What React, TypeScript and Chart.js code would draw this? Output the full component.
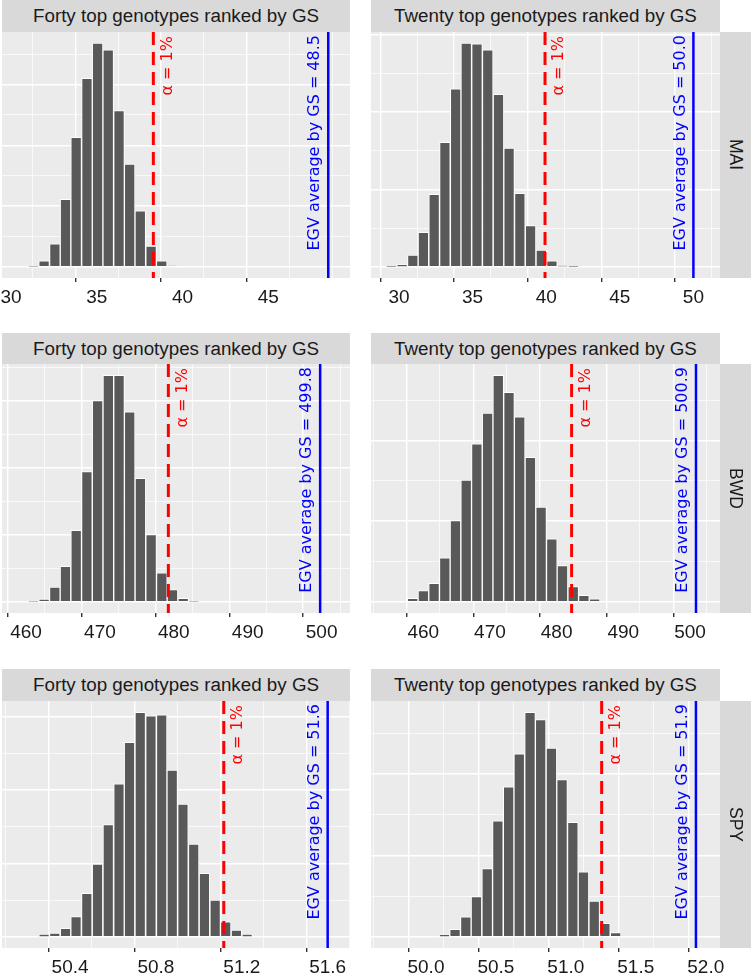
import React, { useEffect, useRef } from "react";
import { Chart, registerables } from "chart.js";

Chart.register(...registerables);

// ---------------- data ----------------
const rowNames = ["MAI", "BWD", "SPY"];
const colTitles = ["Forty top genotypes ranked by GS", "Twenty top genotypes ranked by GS"];

const maiFortyBins = [31.31, 31.93, 32.56, 33.18, 33.8, 34.43, 35.05, 35.67, 36.3, 36.92, 37.54, 38.17, 38.79, 39.41];
const maiFortyCounts = [3, 50, 190, 555, 1065, 1550, 1840, 1785, 1285, 845, 460, 170, 50, 8];

const maiTwentyBins = [29.48, 30.21, 30.94, 31.66, 32.39, 33.12, 33.85, 34.57, 35.3, 36.03, 36.76, 37.48, 38.21, 38.94, 39.67, 40.39, 41.12, 41.85];
const maiTwentyCounts = [2, 15, 75, 222, 468, 804, 1149, 1444, 1440, 1401, 1114, 767, 474, 267, 108, 39, 6, 2];

const bwdFortyBins = [461.0, 462.45, 463.9, 465.34, 466.79, 468.24, 469.69, 471.14, 472.59, 474.03, 475.48, 476.93, 478.38, 479.82, 481.27, 482.72];
const bwdFortyCounts = [2, 20, 108, 263, 533, 970, 1500, 1688, 1688, 1415, 920, 500, 215, 90, 25, 2];

const bwdTwentyBins = [458.41, 460.02, 461.62, 463.23, 464.83, 466.44, 468.04, 469.65, 471.25, 472.86, 474.46, 476.07, 477.67, 479.28, 480.88, 482.49, 484.09, 485.7];
const bwdTwentyCounts = [21, 69, 114, 272, 503, 755, 980, 1171, 1406, 1300, 1148, 896, 587, 391, 225, 94, 40, 17];

const spyFortyBins = [50.279, 50.329, 50.379, 50.428, 50.478, 50.528, 50.578, 50.628, 50.677, 50.727, 50.777, 50.827, 50.876, 50.926, 50.976, 51.026, 51.076, 51.125, 51.175, 51.225];
const spyFortyCounts = [18, 25, 57, 138, 295, 495, 763, 1040, 1323, 1528, 1503, 1510, 1135, 903, 631, 431, 250, 102, 45, 18];

const spyTwentyBins = [50.132, 50.208, 50.285, 50.361, 50.438, 50.514, 50.591, 50.667, 50.744, 50.82, 50.897, 50.973, 51.05, 51.126, 51.203, 51.279, 51.356];
const spyTwentyCounts = [12, 45, 123, 246, 418, 711, 920, 1123, 1378, 1333, 1158, 964, 703, 398, 219, 82, 25];

const panelBins = [maiFortyBins, maiTwentyBins, bwdFortyBins, bwdTwentyBins, spyFortyBins, spyTwentyBins];
const panelCounts = [maiFortyCounts, maiTwentyCounts, bwdFortyCounts, bwdTwentyCounts, spyFortyCounts, spyTwentyCounts];

const thresholdValues = [38.3, 39.92, 479.26, 482.25, 51.116, 51.256];
const alphaLabel = "α = 1%";
const egvValues = [48.5, 50.0, 499.8, 500.9, 51.6, 51.93];
const egvLabels = ["48.5", "50.0", "499.8", "500.9", "51.6", "51.9"];

const xMajorTicks = [
  [30, 35, 40, 45],
  [30, 35, 40, 45, 50],
  [460, 470, 480, 490, 500],
  [460, 470, 480, 490, 500],
  [50.4, 50.8, 51.2, 51.6],
  [50.0, 50.5, 51.0, 51.5, 52.0],
];
const xTickLabels = [
  ["30", "35", "40", "45"],
  ["30", "35", "40", "45", "50"],
  ["460", "470", "480", "490", "500"],
  ["460", "470", "480", "490", "500"],
  ["50.4", "50.8", "51.2", "51.6"],
  ["50.0", "50.5", "51.0", "51.5", "52.0"],
];
const xMinorTicks = [
  [32.5, 37.5, 42.5, 47.5],
  [32.5, 37.5, 42.5, 47.5],
  [465, 475, 485, 495],
  [455, 465, 475, 485, 495],
  [50.2, 50.6, 51.0, 51.4],
  [49.75, 50.25, 50.75, 51.25, 51.75],
];
const xRanges = [
  [29.475, 49.767],
  [28.098, 51.807],
  [456.75, 503.84],
  [452.16, 504.5],
  [50.083, 51.704],
  [49.607, 52.102],
];
const yMajorTicks = [0, 500, 1000, 1500];
const yMinorTicks = [250, 750, 1250, 1750];

// ---------------- layout ----------------
const colLeft = [2, 371];
const colRight = [350, 720];
const stripTop = [0, 333, 669];
const panelTop = [32, 364, 701];
const panelBottom = [278, 613, 948];
const SIDE = 24;
const AXIS_H = 40;

const SANS = "'Liberation Sans', Arial, Helvetica, sans-serif";
const DEJAVU = "'DejaVu Sans', sans-serif";

const near = (arr: number[], v: number) => arr.findIndex((m) => Math.abs(m - v) < 1e-6);

function Panel({ idx }: { idx: number }) {
  const ref = useRef<HTMLCanvasElement | null>(null);
  const row = Math.floor(idx / 2);
  const col = idx % 2;
  const w = colRight[col] - colLeft[col];
  const h = panelBottom[row] - panelTop[row];
  const cw = w + 2 * SIDE;
  const ch = h + AXIS_H;

  useEffect(() => {
    if (!ref.current) return;
    const counts = panelCounts[idx];
    const bins = panelBins[idx];
    const maxC = Math.max(...counts);
    const majors = xMajorTicks[idx];
    const minors = xMinorTicks[idx];
    const allX = [...majors, ...minors].sort((a, b) => a - b);
    const yMin = -0.05 * maxC;
    const yMax = 1.05 * maxC;
    const allY = [...yMajorTicks, ...yMinorTicks].filter((v) => v <= yMax).sort((a, b) => a - b);

    const bgPlugin = {
      id: "panelBg",
      beforeDraw(chart: any) {
        const { ctx, chartArea } = chart;
        ctx.save();
        ctx.fillStyle = "#EBEBEB";
        ctx.fillRect(chartArea.left, chartArea.top, chartArea.right - chartArea.left, chartArea.bottom - chartArea.top);
        ctx.restore();
      },
    };

    const linesPlugin = {
      id: "refLines",
      afterDatasetsDraw(chart: any) {
        const { ctx, chartArea } = chart;
        const xs = chart.scales.x;
        const xr = xs.getPixelForValue(thresholdValues[idx]);
        const xb = xs.getPixelForValue(egvValues[idx]);
        ctx.save();
        // red dashed threshold
        ctx.strokeStyle = "#FF0000";
        ctx.lineWidth = 3;
        ctx.setLineDash([13, 7]);
        ctx.beginPath();
        ctx.moveTo(xr, chartArea.top);
        ctx.lineTo(xr, chartArea.bottom);
        ctx.stroke();
        // blue EGV line
        ctx.setLineDash([]);
        ctx.strokeStyle = "#0000FF";
        ctx.lineWidth = 2.5;
        ctx.beginPath();
        ctx.moveTo(xb, chartArea.top);
        ctx.lineTo(xb, chartArea.bottom);
        ctx.stroke();
        // labels
        ctx.font = `16px ${DEJAVU}`;
        ctx.textAlign = "right";
        ctx.textBaseline = "middle";
        ctx.save();
        ctx.translate(xr + 14, chartArea.top + 4);
        ctx.rotate(-Math.PI / 2);
        ctx.fillStyle = "#FF0000";
        ctx.fillText(alphaLabel, 0, 0);
        ctx.restore();
        ctx.save();
        ctx.translate(xb - 13, chartArea.top + 3);
        ctx.rotate(-Math.PI / 2);
        ctx.fillStyle = "#0000FF";
        ctx.fillText(`EGV average by GS = ${egvLabels[idx]}`, 0, 0);
        ctx.restore();
        ctx.restore();
      },
    };

    const chart = new Chart(ref.current, {
      type: "bar",
      data: {
        datasets: [
          {
            data: bins.map((x, i) => ({ x, y: counts[i] })),
            backgroundColor: "#595959",
            borderColor: "#FFFFFF",
            borderWidth: 1,
            borderSkipped: "start",
            barPercentage: 1,
            categoryPercentage: 1,
          } as any,
        ],
      },
      options: {
        animation: false,
        responsive: false,
        maintainAspectRatio: false,
        devicePixelRatio: 1,
        events: [],
        layout: { padding: { left: SIDE, right: SIDE, top: 0, bottom: 0 } },
        plugins: { legend: { display: false }, tooltip: { enabled: false }, title: { display: false } },
        scales: {
          x: {
            type: "linear",
            min: xRanges[idx][0],
            max: xRanges[idx][1],
            offset: false,
            bounds: "data",
            afterBuildTicks: (s: any) => {
              s.ticks = allX.map((v) => ({ value: v }));
            },
            afterFit: (s: any) => {
              s.height = AXIS_H;
            },
            border: { display: false },
            grid: {
              color: "#FFFFFF",
              lineWidth: (c: any) => (c.tick && near(majors, c.tick.value) >= 0 ? 1.4 : 0.7),
              drawTicks: true,
              tickLength: 4,
              tickWidth: (c: any) => (c.tick && near(majors, c.tick.value) >= 0 ? 1.4 : 0.7),
              tickColor: (c: any) => (c.tick && near(majors, c.tick.value) >= 0 ? "#333333" : "rgba(0,0,0,0)"),
            },
            ticks: {
              autoSkip: false,
              maxRotation: 0,
              minRotation: 0,
              padding: 4,
              color: "#1A1A1A",
              font: { family: SANS, size: 19 },
              callback: (v: any) => {
                const k = near(majors, Number(v));
                return k >= 0 ? xTickLabels[idx][k] : "";
              },
            },
          } as any,
          y: {
            type: "linear",
            min: yMin,
            max: yMax,
            bounds: "data",
            afterBuildTicks: (s: any) => {
              s.ticks = allY.map((v) => ({ value: v }));
            },
            afterFit: (s: any) => {
              s.width = 0;
            },
            border: { display: false },
            grid: {
              color: "#FFFFFF",
              lineWidth: (c: any) => (c.tick && yMajorTicks.indexOf(c.tick.value) >= 0 ? 1.4 : 0.7),
              drawTicks: false,
            },
            ticks: { display: false },
          } as any,
        },
      },
      plugins: [bgPlugin, linesPlugin],
    });
    return () => chart.destroy();
  }, [idx]);

  return (
    <canvas
      ref={ref}
      width={cw}
      height={ch}
      style={{ position: "absolute", left: colLeft[col] - SIDE, top: panelTop[row], width: cw, height: ch }}
    />
  );
}

export default function App() {
  const panels = [0, 1, 2, 3, 4, 5];
  return (
    <div style={{ position: "absolute", left: 0, top: 0, width: 751, height: 975, background: "#FFFFFF", overflow: "hidden" }}>
      {panels.map((i) => (
        <Panel key={`p${i}`} idx={i} />
      ))}
      {panels.map((i) => {
        const row = Math.floor(i / 2);
        const col = i % 2;
        return (
          <div
            key={`s${i}`}
            style={{
              position: "absolute",
              left: colLeft[col],
              top: stripTop[row],
              width: colRight[col] - colLeft[col],
              height: panelTop[row] - stripTop[row],
              background: "#D9D9D9",
              display: "flex",
              alignItems: "center",
              justifyContent: "center",
              font: `18.8px ${SANS}`,
              color: "#1A1A1A",
              whiteSpace: "nowrap",
            }}
          >
            {colTitles[col]}
          </div>
        );
      })}
      {rowNames.map((name, row) => (
        <div
          key={`r${row}`}
          style={{
            position: "absolute",
            left: 720,
            top: panelTop[row],
            width: 31,
            height: panelBottom[row] - panelTop[row],
            background: "#D9D9D9",
            display: "flex",
            alignItems: "center",
            justifyContent: "center",
            font: `17.5px ${SANS}`,
            color: "#1A1A1A",
            writingMode: "vertical-rl",
            whiteSpace: "nowrap",
          }}
        >
          {name}
        </div>
      ))}
    </div>
  );
}
